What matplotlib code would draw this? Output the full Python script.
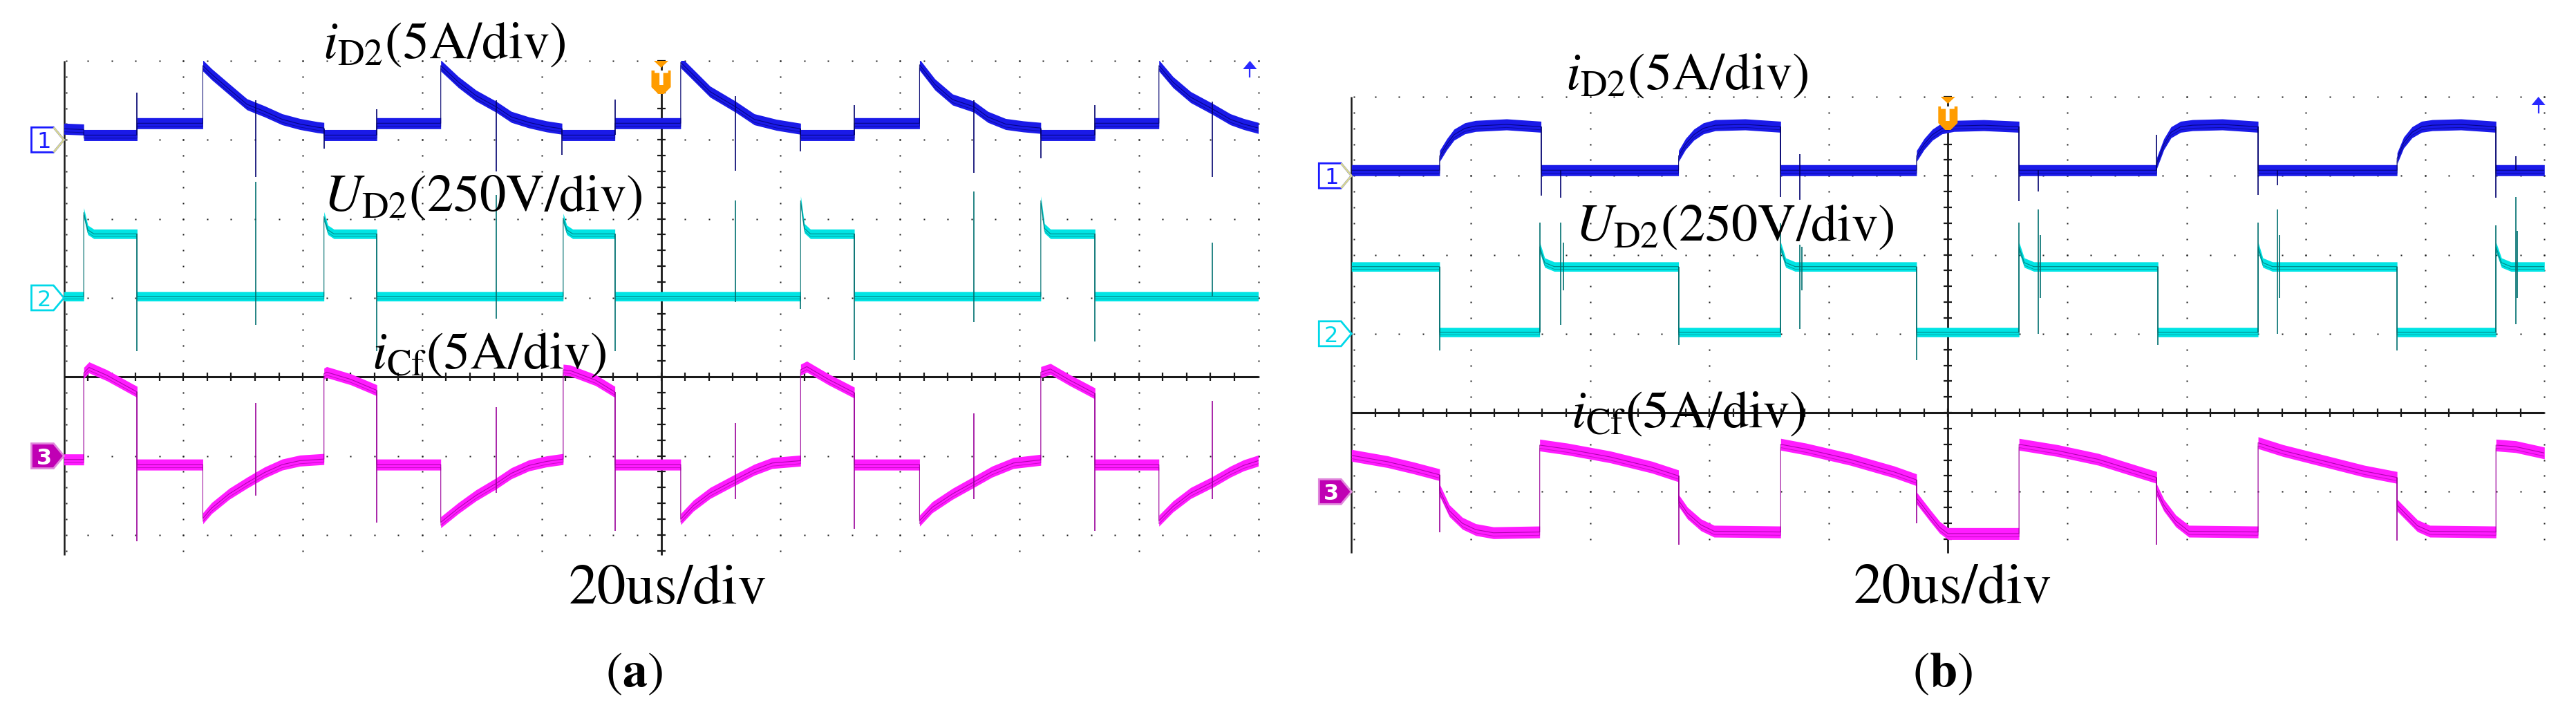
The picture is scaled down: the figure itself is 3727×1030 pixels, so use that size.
import numpy as np
import matplotlib
matplotlib.use("Agg")
import matplotlib.pyplot as plt
from matplotlib.patches import Polygon
import matplotlib.transforms as mtransforms

W, H, DPI = 3727, 1030, 100
plt.rcParams["font.family"] = ["STIXGeneral", "DejaVu Serif"]
plt.rcParams["mathtext.fontset"] = "stix"

# ------------------------------------------------------------------
# Data, read from the scope screens (time in divisions, level in divisions)
# ------------------------------------------------------------------
# Panel (a)
a_iD2_t = [0.00, 0.166, 0.166, 0.613, 0.613, 1.163, 1.163, 1.237, 1.384, 1.532, 1.68, 1.827, 1.975, 2.122,
           2.177, 2.177, 2.62, 2.62, 3.155, 3.155, 3.303, 3.45, 3.617, 3.746, 3.894, 4.04, 4.17, 4.17,
           4.613, 4.613, 5.164, 5.164, 5.264, 5.41, 5.622, 5.78, 5.965, 6.168, 6.168, 6.618, 6.618,
           7.164, 7.164, 7.293, 7.44, 7.618, 7.736, 7.884, 8.03, 8.179, 8.179, 8.633, 8.633, 9.168,
           9.168, 9.286, 9.434, 9.618, 9.766, 9.877, 10.0]
a_iD2_v = [3.14, 3.13, 3.06, 3.06, 3.21, 3.21, 3.94, 3.83, 3.64, 3.45, 3.36, 3.26, 3.20, 3.16,
           3.15, 3.06, 3.06, 3.21, 3.21, 3.94, 3.73, 3.56, 3.42, 3.29, 3.22, 3.17, 3.14, 3.06,
           3.06, 3.21, 3.21, 3.98, 3.83, 3.61, 3.42, 3.26, 3.19, 3.14, 3.06, 3.06, 3.21,
           3.21, 3.95, 3.70, 3.51, 3.42, 3.29, 3.20, 3.17, 3.15, 3.06, 3.06, 3.21, 3.21,
           3.94, 3.73, 3.54, 3.39, 3.26, 3.20, 3.15]
a_iD2_spk_t = [0.613, 1.605, 2.177, 2.62, 3.617, 4.17, 4.613, 5.622, 6.168, 6.618, 7.618, 8.179, 8.633, 9.618]
a_iD2_spk_lo = [3.06, 2.53, 2.89, 3.06, 2.60, 2.81, 3.06, 2.61, 2.85, 3.06, 2.58, 2.77, 3.06, 2.53]
a_iD2_spk_hi = [3.60, 3.50, 3.14, 3.39, 3.50, 3.14, 3.51, 3.55, 3.14, 3.44, 3.50, 3.14, 3.44, 3.48]

a_UD2_t = [0.0, 0.166, 0.166, 0.20, 0.25, 0.613, 0.613, 2.177, 2.177, 2.21, 2.26, 2.62, 2.62, 4.18, 4.18,
           4.21, 4.26, 4.613, 4.613, 6.168, 6.168, 6.20, 6.25, 6.618, 6.618, 8.179, 8.179, 8.21, 8.26,
           8.633, 8.633, 10.0]
a_UD2_v = [1.02, 1.02, 2.08, 1.86, 1.81, 1.81, 1.02, 1.02, 2.03, 1.86, 1.81, 1.81, 1.02, 1.02, 2.01,
           1.86, 1.81, 1.81, 1.02, 1.02, 2.23, 1.88, 1.81, 1.81, 1.02, 1.02, 2.23, 1.88, 1.81,
           1.81, 1.02, 1.02]
a_UD2_spk_t = [0.613, 1.605, 2.62, 3.617, 4.613, 5.622, 6.168, 6.618, 7.618, 8.633, 9.618]
a_UD2_spk_lo = [0.33, 0.66, 0.33, 0.74, 0.33, 0.95, 0.86, 0.21, 0.69, 0.45, 1.02]
a_UD2_spk_hi = [1.81, 2.47, 1.81, 2.30, 1.81, 2.23, 1.02, 1.81, 2.35, 1.81, 1.70]

a_iCf_t = [0.0, 0.166, 0.166, 0.21, 0.36, 0.54, 0.613, 0.613, 1.163, 1.163, 1.237, 1.384, 1.532, 1.68,
           1.827, 1.975, 2.177, 2.177, 2.20, 2.40, 2.62, 2.62, 3.155, 3.155, 3.303, 3.45, 3.617, 3.746,
           3.894, 4.04, 4.18, 4.18, 4.24, 4.45, 4.613, 4.613, 5.164, 5.164, 5.27, 5.41, 5.622, 5.78,
           5.93, 6.168, 6.168, 6.22, 6.40, 6.618, 6.618, 7.164, 7.164, 7.27, 7.44, 7.618, 7.77, 7.95,
           8.179, 8.179, 8.26, 8.42, 8.633, 8.633, 9.168, 9.168, 9.286, 9.434, 9.618, 9.766, 9.877, 10.0]
a_iCf_v = [-1.045, -1.045, 0.05, 0.12, 0.02, -0.13, -0.19, -1.11, -1.11, -1.79, -1.66, -1.48, -1.34, -1.21,
           -1.11, -1.06, -1.04, 0.04, 0.06, -0.03, -0.17, -1.11, -1.11, -1.84, -1.66, -1.50, -1.35, -1.22,
           -1.12, -1.07, -1.04, 0.09, 0.08, -0.04, -0.19, -1.11, -1.11, -1.80, -1.63, -1.47, -1.30, -1.175,
           -1.09, -1.06, 0.09, 0.13, -0.03, -0.20, -1.11, -1.11, -1.82, -1.65, -1.48, -1.33, -1.20, -1.09,
           -1.05, 0.06, 0.10, -0.04, -0.21, -1.11, -1.11, -1.82, -1.64, -1.47, -1.33, -1.20, -1.12, -1.06]
a_iCf_spk_t = [0.613, 1.605, 2.62, 3.617, 4.613, 5.622, 6.618, 7.618, 8.633, 9.618]
a_iCf_spk_lo = [-2.08, -1.50, -1.84, -1.47, -1.95, -1.55, -1.92, -1.55, -1.95, -1.55]
a_iCf_spk_hi = [-0.19, -0.33, -0.17, -0.38, -0.19, -0.58, -0.20, -0.46, -0.21, -0.30]

# Panel (b)
b_iD2_t = [0.0, 0.739, 0.739, 0.80, 0.86, 0.95, 1.04, 1.30, 1.589, 1.589, 2.742, 2.742, 2.80, 2.87, 2.95,
           3.05, 3.30, 3.598, 3.598, 4.737, 4.737, 4.80, 4.87, 4.95, 5.05, 5.30, 5.596, 5.596, 6.75, 6.75,
           6.81, 6.87, 6.95, 7.05, 7.30, 7.60, 7.60, 8.765, 8.765, 8.82, 8.89, 8.97, 9.06, 9.30, 9.594,
           9.594, 10.0]
b_iD2_v = [3.07, 3.07, 3.25, 3.40, 3.52, 3.60, 3.63, 3.65, 3.62, 3.07, 3.07, 3.25, 3.40, 3.52, 3.60,
           3.64, 3.65, 3.62, 3.07, 3.07, 3.25, 3.40, 3.52, 3.60, 3.63, 3.64, 3.62, 3.07, 3.07, 3.16,
           3.40, 3.55, 3.62, 3.64, 3.65, 3.62, 3.07, 3.07, 3.22, 3.42, 3.55, 3.62, 3.64, 3.65, 3.62,
           3.07, 3.07]
b_iD2_spk_t = [1.589, 1.755, 3.598, 3.758, 5.596, 5.757, 6.75, 7.60, 7.764, 9.594, 9.758]
b_iD2_spk_lo = [2.75, 2.72, 2.73, 2.70, 2.68, 2.80, 3.07, 2.76, 2.88, 2.72, 3.07]
b_iD2_spk_hi = [3.62, 3.07, 3.62, 3.27, 3.62, 3.07, 3.52, 3.62, 3.07, 3.62, 3.25]

b_UD2_t = [0.0, 0.739, 0.739, 1.578, 1.578, 1.62, 1.70, 2.742, 2.742, 3.598, 3.598, 3.64, 3.72, 4.737,
           4.737, 5.596, 5.596, 5.64, 5.72, 6.761, 6.761, 7.60, 7.60, 7.64, 7.72, 8.765, 8.765, 9.594,
           9.594, 9.64, 9.72, 10.0]
b_UD2_v = [1.85, 1.85, 1.02, 1.02, 2.10, 1.90, 1.85, 1.85, 1.02, 1.02, 2.10, 1.90, 1.85, 1.85,
           1.02, 1.02, 2.10, 1.90, 1.85, 1.85, 1.02, 1.02, 2.10, 1.90, 1.85, 1.85, 1.02, 1.02,
           2.10, 1.90, 1.85, 1.85]
b_UD2_spk_t = [0.739, 1.578, 1.755, 1.775, 2.742, 3.598, 3.758, 3.775, 4.737, 5.596, 5.757, 5.775,
               6.761, 7.60, 7.764, 7.78, 8.765, 9.594, 9.758, 9.775]
b_UD2_spk_lo = [0.79, 1.02, 1.11, 1.55, 0.86, 1.02, 1.06, 1.55, 0.67, 1.02, 1.00, 1.45,
                0.86, 1.02, 1.00, 1.45, 0.79, 1.02, 1.12, 1.45]
b_UD2_spk_hi = [1.85, 2.41, 2.41, 2.15, 1.85, 2.40, 2.13, 2.10, 1.85, 2.41, 2.57, 2.25,
                1.85, 2.41, 2.57, 2.25, 1.85, 2.37, 2.73, 2.30]

b_iCf_t = [0.0, 0.302, 0.524, 0.739, 0.739, 0.82, 0.93, 1.042, 1.19, 1.578, 1.578, 1.81, 2.17, 2.52,
           2.742, 2.742, 2.816, 2.93, 3.04, 3.598, 3.598, 3.81, 4.18, 4.55, 4.737, 4.737, 4.85, 4.93,
           5.0, 5.596, 5.596, 5.92, 6.26, 6.60, 6.75, 6.75, 6.81, 6.91, 7.02, 7.60, 7.60, 7.81, 8.15,
           8.49, 8.765, 8.765, 8.83, 8.935, 9.04, 9.594, 9.594, 9.76, 10.0]
b_iCf_v = [-0.54, -0.62, -0.70, -0.786, -0.98, -1.24, -1.40, -1.48, -1.52, -1.51, -0.41, -0.46, -0.56, -0.69,
           -0.80, -1.11, -1.27, -1.42, -1.50, -1.51, -0.40, -0.46, -0.59, -0.75, -0.85, -1.08, -1.30, -1.45,
           -1.53, -1.53, -0.40, -0.48, -0.59, -0.75, -0.82, -0.98, -1.17, -1.37, -1.50, -1.51, -0.38, -0.48,
           -0.61, -0.74, -0.82, -1.17, -1.27, -1.43, -1.50, -1.51, -0.41, -0.43, -0.51]
b_iCf_spk_t = [0.739, 2.742, 4.737, 6.75, 8.765]
b_iCf_spk_lo = [-1.51, -1.67, -1.40, -1.67, -1.62]
b_iCf_spk_hi = [-0.786, -0.80, -0.85, -0.82, -0.82]

# channel ground-marker levels (div)
ch_levels = [3.0, 1.0, -1.0]
ch_names = ["1", "2", "3"]

# labels
lab_iD2 = r"$i_{\mathrm{D2}}$(5A/div)"
lab_UD2 = r"$U_{\mathrm{D2}}$(250V/div)"
lab_iCf = r"$i_{\mathrm{Cf}}$(5A/div)"
lab_time = "20us/div"
lab_a = r"($\mathbf{a}$)"
lab_b = r"($\mathbf{b}$)"

# ------------------------------------------------------------------
C1 = ("#1a1ae8", "#00006e")
C2 = ("#00e4e4", "#007070")
C3 = ("#ff1cff", "#9a009a")
GRID = "#1a1a1a"

fig = plt.figure(figsize=(W / DPI, H / DPI), dpi=DPI)
fig.patch.set_facecolor("white")


def make_axes(left_px, top_px, width_px, bottom_px, ymin, ymax):
    ax = fig.add_axes([left_px / W, 1 - bottom_px / H, width_px / W, (bottom_px - top_px) / H])
    ax.axis("off")
    ax.set_xlim(0, 10)
    ax.set_ylim(ymin, ymax)
    return ax


def draw_grid(ax, ymin, rows):
    ys = np.arange(np.ceil(ymin / 0.2 - 1e-6), 20.5) * 0.2
    xs = np.arange(1, 51) * 0.2
    kw = dict(ls="none", marker="s", ms=1.7, color=GRID, mec="none", clip_on=False, zorder=1)
    for xv in [1, 2, 3, 4, 6, 7, 8, 9, 10]:
        ax.plot(np.full(len(ys), xv), ys, **kw)
    for yv in rows:
        ax.plot(xs, np.full(len(xs), yv), **kw)
    ax.plot(np.full(len(ys), 0.022), ys, **kw)
    ax.plot([0, 0], [ymin, 4.0], color=GRID, lw=1.8, zorder=2, clip_on=False, solid_capstyle="butt")
    ax.plot([5, 5], [ymin, 4.0], color=GRID, lw=2.0, zorder=2, clip_on=False, solid_capstyle="butt")
    ax.plot(np.full(len(ys), 5), ys, ls="none", marker="_", ms=9, mew=1.6, color=GRID, zorder=2, clip_on=False)
    ax.plot([0, 10], [0, 0], color=GRID, lw=2.2, zorder=2, clip_on=False, solid_capstyle="butt")
    xt = np.arange(1, 50) * 0.2
    ax.plot(xt, np.zeros(len(xt)), ls="none", marker="|", ms=9, mew=1.6, color=GRID, zorder=2, clip_on=False)


def draw_trace(ax, t, v, st, slo, shi, cols, half):
    t = np.asarray(t, float)
    v = np.asarray(v, float)
    bright, dark = cols
    ax.fill_between(t, v - half, v + half, color=bright, lw=0, zorder=3)
    ax.plot(t, v - half * 0.55, color=dark, lw=0.7, alpha=0.55, zorder=4)
    ax.plot(t, v, color=dark, lw=0.8, alpha=0.8, zorder=4)
    ax.vlines(st, slo, shi, color=dark, lw=1.2, zorder=4)


def pix_trans(ax, x, y):
    return mtransforms.Affine2D().scale(1, -1) + mtransforms.ScaledTranslation(x, y, ax.transData)


def ch_marker(ax, level, num):
    tr = pix_trans(ax, 0, level)
    verts = [(-47, -18), (-15, -18), (0, 0), (-15, 18), (-47, 18)]
    if num == "1":
        face, edge, tc, fw = "white", "#1a1aff", "#1a1aff", "normal"
    elif num == "2":
        face, edge, tc, fw = "white", "#00d8e8", "#00d8e8", "normal"
    else:
        face, edge, tc, fw = "#c000b4", "#e088dc", "white", "bold"
    ax.add_patch(Polygon(verts, closed=True, transform=tr, facecolor=face, edgecolor=edge,
                         lw=2.0, clip_on=False, zorder=6))
    if num == "1":
        ax.add_patch(Polygon([(-15, -18), (0, 0), (-15, 18)], closed=False, fill=False,
                             transform=tr, edgecolor="#d8d890", lw=2.0, clip_on=False, zorder=6))
    ax.text(-29, 0, num, transform=tr, ha="center", va="center_baseline", color=tc, fontsize=23,
            family="DejaVu Sans", fontweight=fw, clip_on=False, zorder=7)


def trig_marker(ax):
    tr = pix_trans(ax, 5, 4.0)
    org = "#ff9c00"
    ax.add_patch(Polygon([(-10.5, 0), (10.5, 0), (0, 10)], closed=True, transform=tr,
                         facecolor=org, edgecolor="none", clip_on=False, zorder=6))
    ax.add_patch(Polygon([(-14, 14), (14, 14), (14, 38), (4, 48), (-4, 48), (-14, 38)], closed=True,
                         transform=tr, facecolor=org, edgecolor="none", clip_on=False, zorder=6))
    ax.text(0, 27, "T", transform=tr, ha="center", va="center", color="white", fontsize=21,
            family="DejaVu Sans", fontweight="bold", clip_on=False, zorder=7)


def level_arrow(ax, x):
    tr = pix_trans(ax, x, 4.0)
    ax.add_patch(Polygon([(-10, 12), (10, 12), (0, 0)], closed=True, transform=tr,
                         facecolor="#2a2aff", edgecolor="none", clip_on=False, zorder=6))
    ax.plot([0, 0], [12, 23], transform=tr, color="#2a2aff", lw=1.6, clip_on=False, zorder=6)


panels = [
    dict(box=(92.5, 88, 1728, 803), ylim=(-2.255, 4.0), rows=[4, 3, 2, 1, -1, -2],
         traces=[(a_iCf_t, a_iCf_v, a_iCf_spk_t, a_iCf_spk_lo, a_iCf_spk_hi, C3, 0.07),
                 (a_UD2_t, a_UD2_v, a_UD2_spk_t, a_UD2_spk_lo, a_UD2_spk_hi, C2, 0.06),
                 (a_iD2_t, a_iD2_v, a_iD2_spk_t, a_iD2_spk_lo, a_iD2_spk_hi, C1, 0.07)],
         arrow_x=9.93),
    dict(box=(1955.3, 140, 1726, 800), ylim=(-1.776, 4.0), rows=[4, 3, 2, 1, -1],
         traces=[(b_iCf_t, b_iCf_v, b_iCf_spk_t, b_iCf_spk_lo, b_iCf_spk_hi, C3, 0.075),
                 (b_UD2_t, b_UD2_v, b_UD2_spk_t, b_UD2_spk_lo, b_UD2_spk_hi, C2, 0.06),
                 (b_iD2_t, b_iD2_v, b_iD2_spk_t, b_iD2_spk_lo, b_iD2_spk_hi, C1, 0.07)],
         arrow_x=9.95),
]

for p in panels:
    l, t, w, b = p["box"]
    ymin, ymax = p["ylim"]
    ax = make_axes(l, t, w, b, ymin, ymax)
    draw_grid(ax, ymin, p["rows"])
    for tr_ in p["traces"]:
        draw_trace(ax, *tr_)
    for lev, nm in zip(ch_levels, ch_names):
        ch_marker(ax, lev, nm)
    trig_marker(ax)
    level_arrow(ax, p["arrow_x"])
    ax.set_xlim(0, 10)
    ax.set_ylim(ymin, ymax)


def ftext(xpx, ypx, s, size, **kw):
    fig.text(xpx / W, 1 - ypx / H, s, ha="center", va="baseline", fontsize=size, color="black", **kw)


CH_FS = 55
ftext(642.5, 84, lab_iD2, CH_FS)
ftext(698.5, 305, lab_UD2, CH_FS)
ftext(707.5, 533, lab_iCf, CH_FS)
ftext(966.0, 872.7, lab_time, 60)
ftext(917.5, 993, lab_a, 52)

ftext(2441, 128.6, lab_iD2, CH_FS)
ftext(2510, 348, lab_UD2, CH_FS)
ftext(2443, 618, lab_iCf, CH_FS)
ftext(2824.6, 872, lab_time, 60)
ftext(2810, 993, lab_b, 52)

fig.savefig("out.png", dpi=DPI, facecolor="white")
